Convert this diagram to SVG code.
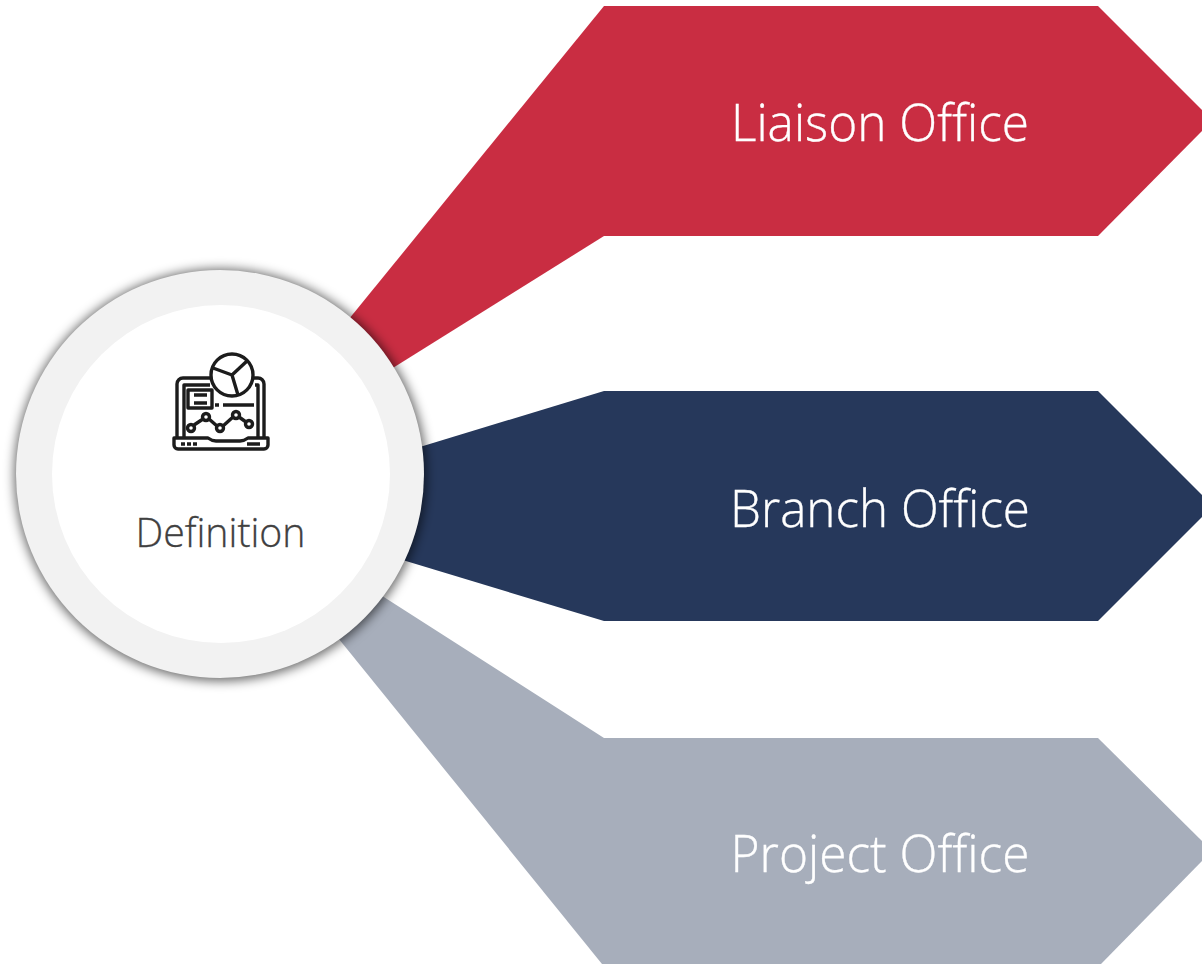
<svg xmlns="http://www.w3.org/2000/svg" width="1202" height="964" viewBox="0 0 1202 964">
<defs>
<style>
.lbl{font-family:"Open Sans","Noto Sans","Liberation Sans",sans-serif;font-weight:300;font-size:51px;fill:#fff;stroke:#fff;stroke-width:.35;text-anchor:middle}
.ic{fill:none;stroke:#1c1c1c;stroke-width:3.4;stroke-linejoin:round}
</style>
<filter id="sh" x="-20%" y="-20%" width="140%" height="140%"><feGaussianBlur stdDeviation="5.500"/></filter>
</defs>
<rect width="1202" height="964" fill="#fff"/>
<g id="connectors">
<polygon points="340,330 604,6 604,236 380,376" fill="#c92d42"/>
<polygon points="410,450 604,391 604,621 396,558" fill="#26385b"/>
<polygon points="376,592 604,738 604,964 602,964 330,628" fill="#a7aebb"/>
</g>
<g id="node-liaison"><polygon points="604,6 1098,6 1202,110 1202,131 1098,236 604,236" fill="#c92d42"/><text class="lbl" x="880" y="141" textLength="298" lengthAdjust="spacingAndGlyphs">Liaison Office</text></g>
<g id="node-branch"><polygon points="604,391 1098,391 1202,495 1202,517 1098,621 604,621" fill="#26385b"/><text class="lbl" x="880" y="527" textLength="300" lengthAdjust="spacingAndGlyphs">Branch Office</text></g>
<g id="node-project"><polygon points="604,738 1098,738 1202,841 1202,861 1101,964 604,964" fill="#a7aebb"/><text class="lbl" x="880" y="872" textLength="299" lengthAdjust="spacingAndGlyphs">Project Office</text></g>
<g id="node-definition">
<circle cx="220.500" cy="475" r="206" fill="#000" fill-opacity=".6" filter="url(#sh)"/>
<circle cx="220" cy="474" r="204" fill="#f2f2f2"/>
<circle cx="221" cy="474" r="169" fill="#fff"/>
<g class="ic">
<path d="M214,378H183a6,6 0 0 0-6,6V437M250,378H258a6,6 0 0 1 6,6V437"/>
<path d="M184,437V385H210M255,385H258V437"/>
<rect x="188" y="390" width="24" height="18"/>
<path d="M194,395H207M194,403H207"/>
<path d="M215,405H219M223,405H254"/>
<path d="M174,438H208q4,3 8,3H240q4,0 8-3H268V445a4,4 0 0 1-4,4H178a4,4 0 0 1-4-4Z"/>
<path d="M181,444H185M187,444H191M193,444H197M247,444H260"/>
<path d="M194,425L203,419M209,419L217,426M223,426L233,417M239,417L246,422"/>
<circle cx="191" cy="428" r="3.5"/><circle cx="206" cy="417" r="3.5"/><circle cx="220" cy="428" r="3.5"/><circle cx="236" cy="415" r="3.5"/><circle cx="249" cy="424" r="3.5"/>
<circle cx="232" cy="375" r="21" fill="#fff"/>
<path d="M232,375L213,368M232,375L247,361M232,375L238,395"/>
</g>
<text x="220.500" y="547" font-family="'Open Sans','Noto Sans','Liberation Sans',sans-serif" font-weight="300" font-size="40" fill="#404040" stroke="#404040" stroke-width=".3" text-anchor="middle" textLength="170" lengthAdjust="spacingAndGlyphs">Definition</text>
</g>
</svg>
